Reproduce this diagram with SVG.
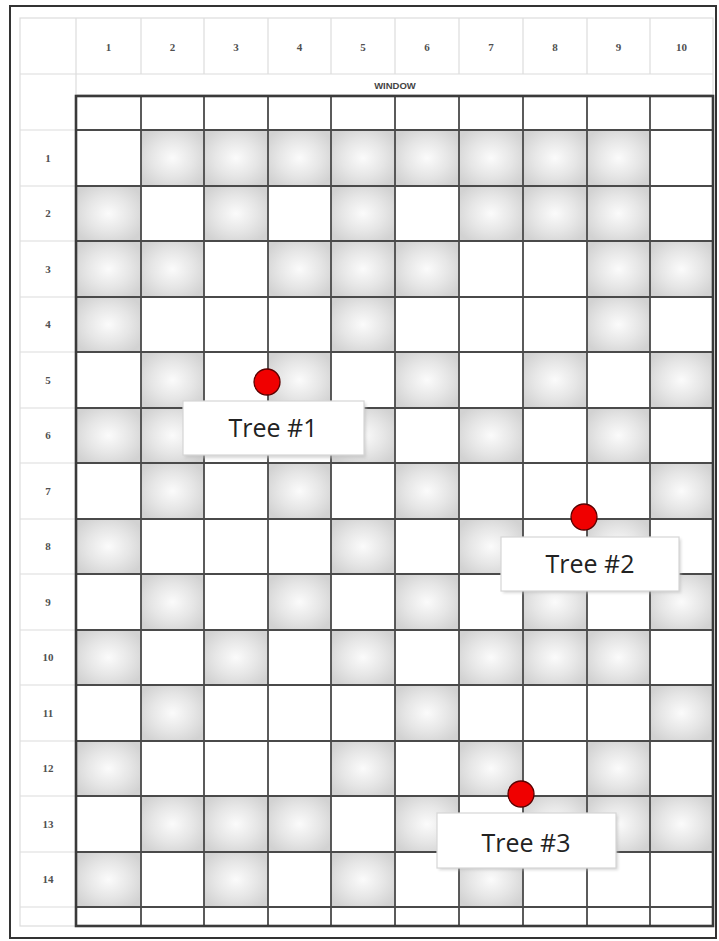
<svg xmlns="http://www.w3.org/2000/svg" width="719" height="941" viewBox="0 0 719 941">
<defs>
<radialGradient id="sh" cx="50%" cy="50%" r="60%">
<stop offset="0" stop-color="#fbfbfb"/>
<stop offset="0.55" stop-color="#e6e6e6"/>
<stop offset="1" stop-color="#d2d2d2"/>
</radialGradient>
<filter id="blur" x="-10%" y="-10%" width="120%" height="120%"><feGaussianBlur stdDeviation="1.5"/></filter>
</defs>
<style>
.hl{stroke:#dcdcdc;stroke-width:1.2;fill:none}
.g{fill:url(#sh)}
.gl{stroke:#4a4a4a;stroke-width:1.8;fill:none}
.hd{font-family:"Liberation Serif","DejaVu Serif",serif;font-weight:bold;font-size:11px;fill:#505050;text-anchor:middle}
.win{font-family:"Liberation Sans",Arial,sans-serif;font-weight:bold;font-size:9.5px;fill:#444;text-anchor:middle}
.lbl{font-family:"Open Sans","Noto Sans","Liberation Sans",sans-serif;font-size:25px;fill:#222;text-anchor:middle}
.box{fill:#fff;stroke:#d6d6d6;stroke-width:1.2}
.shadow{fill:#bdbdbd;filter:url(#blur);opacity:0.6}
.dot{fill:#f00000;stroke:#5a0000;stroke-width:1.3}
</style>
<rect x="0" y="0" width="719" height="941" fill="#fff"/>
<rect x="10" y="6" width="706" height="932" fill="#fff" stroke="#333" stroke-width="2"/>

<g id="header">
<rect x="20" y="18" width="693" height="908" class="hl"/>
<path class="hl" d="M20 74H713M76 95H713M20 130H76M20 186H76M20 241H76M20 297H76M20 352H76M20 408H76M20 463H76M20 519H76M20 574H76M20 630H76M20 685H76M20 741H76M20 796H76M20 852H76M20 907H76M76 18V926M141 18V74M204 18V74M268 18V74M331 18V74M395 18V74M459 18V74M523 18V74M587 18V74M650 18V74"/>
<text class="hd" x="108.5" y="51">1</text>
<text class="hd" x="172.5" y="51">2</text>
<text class="hd" x="236" y="51">3</text>
<text class="hd" x="299.5" y="51">4</text>
<text class="hd" x="363" y="51">5</text>
<text class="hd" x="427" y="51">6</text>
<text class="hd" x="491" y="51">7</text>
<text class="hd" x="555" y="51">8</text>
<text class="hd" x="618.5" y="51">9</text>
<text class="hd" x="681.5" y="51">10</text>
<text class="win" x="395" y="89">WINDOW</text>
<text class="hd" x="48" y="162">1</text>
<text class="hd" x="48" y="217">2</text>
<text class="hd" x="48" y="273">3</text>
<text class="hd" x="48" y="328">4</text>
<text class="hd" x="48" y="384">5</text>
<text class="hd" x="48" y="439">6</text>
<text class="hd" x="48" y="495">7</text>
<text class="hd" x="48" y="550">8</text>
<text class="hd" x="48" y="606">9</text>
<text class="hd" x="48" y="661">10</text>
<text class="hd" x="48" y="717">11</text>
<text class="hd" x="48" y="772">12</text>
<text class="hd" x="48" y="828">13</text>
<text class="hd" x="48" y="883">14</text>
</g>

<g id="cells">
<rect class="g" x="141" y="130" width="63" height="56"/><rect class="g" x="204" y="130" width="64" height="56"/><rect class="g" x="268" y="130" width="63" height="56"/><rect class="g" x="331" y="130" width="64" height="56"/><rect class="g" x="395" y="130" width="64" height="56"/><rect class="g" x="459" y="130" width="64" height="56"/><rect class="g" x="523" y="130" width="64" height="56"/><rect class="g" x="587" y="130" width="63" height="56"/>
<rect class="g" x="76" y="186" width="65" height="55"/><rect class="g" x="204" y="186" width="64" height="55"/><rect class="g" x="331" y="186" width="64" height="55"/><rect class="g" x="459" y="186" width="64" height="55"/><rect class="g" x="523" y="186" width="64" height="55"/><rect class="g" x="587" y="186" width="63" height="55"/>
<rect class="g" x="76" y="241" width="65" height="56"/><rect class="g" x="141" y="241" width="63" height="56"/><rect class="g" x="268" y="241" width="63" height="56"/><rect class="g" x="331" y="241" width="64" height="56"/><rect class="g" x="395" y="241" width="64" height="56"/><rect class="g" x="587" y="241" width="63" height="56"/><rect class="g" x="650" y="241" width="63" height="56"/>
<rect class="g" x="76" y="297" width="65" height="55"/><rect class="g" x="331" y="297" width="64" height="55"/><rect class="g" x="587" y="297" width="63" height="55"/>
<rect class="g" x="141" y="352" width="63" height="56"/><rect class="g" x="268" y="352" width="63" height="56"/><rect class="g" x="395" y="352" width="64" height="56"/><rect class="g" x="523" y="352" width="64" height="56"/><rect class="g" x="650" y="352" width="63" height="56"/>
<rect class="g" x="76" y="408" width="65" height="55"/><rect class="g" x="141" y="408" width="63" height="55"/><rect class="g" x="331" y="408" width="64" height="55"/><rect class="g" x="459" y="408" width="64" height="55"/><rect class="g" x="587" y="408" width="63" height="55"/>
<rect class="g" x="141" y="463" width="63" height="56"/><rect class="g" x="268" y="463" width="63" height="56"/><rect class="g" x="395" y="463" width="64" height="56"/><rect class="g" x="650" y="463" width="63" height="56"/>
<rect class="g" x="76" y="519" width="65" height="55"/><rect class="g" x="331" y="519" width="64" height="55"/><rect class="g" x="459" y="519" width="64" height="55"/><rect class="g" x="587" y="519" width="63" height="55"/>
<rect class="g" x="141" y="574" width="63" height="56"/><rect class="g" x="268" y="574" width="63" height="56"/><rect class="g" x="395" y="574" width="64" height="56"/><rect class="g" x="523" y="574" width="64" height="56"/><rect class="g" x="650" y="574" width="63" height="56"/>
<rect class="g" x="76" y="630" width="65" height="55"/><rect class="g" x="204" y="630" width="64" height="55"/><rect class="g" x="331" y="630" width="64" height="55"/><rect class="g" x="459" y="630" width="64" height="55"/><rect class="g" x="523" y="630" width="64" height="55"/><rect class="g" x="587" y="630" width="63" height="55"/>
<rect class="g" x="141" y="685" width="63" height="56"/><rect class="g" x="395" y="685" width="64" height="56"/><rect class="g" x="650" y="685" width="63" height="56"/>
<rect class="g" x="76" y="741" width="65" height="55"/><rect class="g" x="331" y="741" width="64" height="55"/><rect class="g" x="459" y="741" width="64" height="55"/><rect class="g" x="587" y="741" width="63" height="55"/>
<rect class="g" x="141" y="796" width="63" height="56"/><rect class="g" x="204" y="796" width="64" height="56"/><rect class="g" x="268" y="796" width="63" height="56"/><rect class="g" x="395" y="796" width="64" height="56"/><rect class="g" x="523" y="796" width="64" height="56"/><rect class="g" x="587" y="796" width="63" height="56"/><rect class="g" x="650" y="796" width="63" height="56"/>
<rect class="g" x="76" y="852" width="65" height="55"/><rect class="g" x="204" y="852" width="64" height="55"/><rect class="g" x="331" y="852" width="64" height="55"/><rect class="g" x="459" y="852" width="64" height="55"/>
</g>

<g id="connectors">
<path class="gl" d="M76 130H713M76 186H713M76 241H713M76 297H713M76 352H713M76 408H713M76 463H713M76 519H713M76 574H713M76 630H713M76 685H713M76 741H713M76 796H713M76 852H713M76 907H713M141 96V926M204 96V926M268 96V926M331 96V926M395 96V926M459 96V926M523 96V926M587 96V926M650 96V926"/>
<rect x="76" y="96" width="637" height="830" fill="none" stroke="#3a3a3a" stroke-width="2.6"/>
</g>

<g id="tree1">
<circle class="dot" cx="267" cy="382" r="13"/>
<rect class="shadow" x="185" y="403" width="181" height="55"/>
<rect class="box" x="183" y="401" width="181" height="54"/>
<text class="lbl" x="273" y="437">Tree #1</text>
</g>
<g id="tree2">
<circle class="dot" cx="584" cy="517" r="13"/>
<rect class="shadow" x="503" y="539" width="178" height="54"/>
<rect class="box" x="501" y="537" width="178" height="54"/>
<text class="lbl" x="590" y="573">Tree #2</text>
</g>
<g id="tree3">
<circle class="dot" cx="521" cy="794" r="13"/>
<rect class="shadow" x="439" y="815" width="179" height="55"/>
<rect class="box" x="437" y="813" width="179" height="55"/>
<text class="lbl" x="526" y="852">Tree #3</text>
</g>
</svg>
